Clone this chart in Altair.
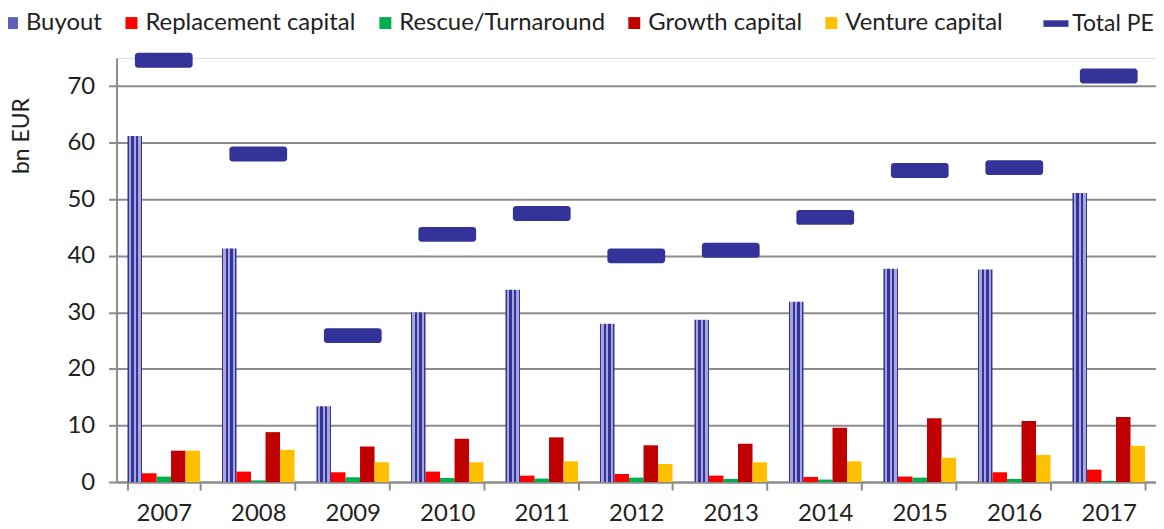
import altair as alt
import pandas as pd

years = ["2007", "2008", "2009", "2010", "2011", "2012", "2013", "2014", "2015", "2016", "2017"]
buyout = [61.2, 41.3, 13.4, 30.0, 34.0, 28.0, 28.7, 31.9, 37.7, 37.6, 51.1]
replacement = [1.55, 1.85, 1.73, 1.85, 1.14, 1.44, 1.14, 0.91, 0.97, 1.73, 2.2]
rescue = [0.97, 0.3, 0.85, 0.73, 0.62, 0.79, 0.56, 0.44, 0.79, 0.56, 0.2]
growth = [5.55, 8.83, 6.3, 7.66, 7.9, 6.5, 6.78, 9.6, 11.3, 10.8, 11.5]
venture = [5.55, 5.7, 3.5, 3.5, 3.67, 3.2, 3.5, 3.67, 4.3, 4.8, 6.4]
total_pe = [74.6, 58.0, 25.9, 43.8, 47.5, 40.0, 41.0, 46.8, 55.1, 55.6, 71.8]

series_names = ["Buyout", "Replacement capital", "Rescue/Turnaround", "Growth capital", "Venture capital"]
colors = ["#5f5fb5", "#ff0000", "#00b050", "#c00000", "#ffc000"]

rows = []
for name, vals in zip(series_names, [buyout, replacement, rescue, growth, venture]):
    for yr, v in zip(years, vals):
        rows.append({"year": yr, "series": name, "value": v})
bars_df = pd.DataFrame(rows)
total_df = pd.DataFrame({"year": years, "series": "Total PE", "value": total_pe})

FONT = "Lato"
GRAY = "#8c8c8c"
TXT = "#222222"

stripes = {
    "gradient": "linear", "x1": 0, "y1": 0, "x2": 1, "y2": 0,
    "stops": [
        {"offset": 0.0, "color": "#333399"}, {"offset": 0.1, "color": "#333399"},
        {"offset": 0.1, "color": "#a6a6da"}, {"offset": 0.27, "color": "#a6a6da"},
        {"offset": 0.27, "color": "#333399"}, {"offset": 0.42, "color": "#333399"},
        {"offset": 0.42, "color": "#a6a6da"}, {"offset": 0.58, "color": "#a6a6da"},
        {"offset": 0.58, "color": "#333399"}, {"offset": 0.73, "color": "#333399"},
        {"offset": 0.73, "color": "#a6a6da"}, {"offset": 0.9, "color": "#a6a6da"},
        {"offset": 0.9, "color": "#333399"}, {"offset": 1.0, "color": "#333399"},
    ],
}

x_enc = alt.X(
    "year:N",
    sort=years,
    scale=alt.Scale(paddingInner=0.232, paddingOuter=0.116),
    axis=alt.Axis(
        title=None, labelAngle=0, labelFontSize=24, labelFont=FONT, labelColor=TXT,
        tickBand="extent", tickSize=8, tickColor=GRAY, tickWidth=2,
        domainColor=GRAY, domainWidth=2, labelPadding=12, grid=False,
    ),
)
xoff_enc = alt.XOffset("series:N", sort=series_names,
                       scale=alt.Scale(domain=series_names, paddingInner=0, paddingOuter=0))
y_enc = alt.Y(
    "value:Q",
    scale=alt.Scale(domain=[0, 75], nice=False),
    axis=alt.Axis(
        title="bn EUR", titleFont=FONT, titleFontSize=23, titleFontWeight="normal",
        titleColor=TXT, titleAngle=270, titleX=-95, titleY=78, titleAlign="center",
        titleBaseline="middle",
        values=[0, 10, 20, 30, 40, 50, 60, 70], labelFontSize=24, labelFont=FONT,
        labelColor=TXT, labelPadding=14, tickSize=8, tickColor=GRAY, tickWidth=2,
        domainColor=GRAY, domainWidth=2, gridColor=GRAY, gridWidth=2,
    ),
)

legend_bars = alt.Legend(
    title=None, orient="none", legendX=-117, legendY=-47, direction="horizontal",
    columns=5, columnPadding=17, labelFontSize=24, labelFont=FONT, labelColor=TXT,
    symbolType="square", symbolSize=144, symbolStrokeWidth=0, labelOffset=2,
    labelLimit=400, padding=0,
)
legend_total = alt.Legend(
    title=None, orient="none", legendX=932, legendY=-46, direction="horizontal",
    labelFontSize=23, labelFont=FONT, labelColor=TXT,
    symbolType="M-2.1,-0.55H2.1V0.55H-2.1Z", symbolSize=144, symbolStrokeWidth=0,
    symbolFillColor="#333399", labelOffset=5, labelLimit=400, padding=0,
)

others = alt.Chart(bars_df).transform_filter(alt.datum.series != "Buyout").mark_bar().encode(
    x=x_enc, xOffset=xoff_enc, y=y_enc,
    color=alt.Color("series:N", scale=alt.Scale(domain=series_names, range=colors), legend=legend_bars),
)
buy = alt.Chart(bars_df).transform_filter(alt.datum.series == "Buyout").mark_bar(fill=stripes).encode(
    x=x_enc, xOffset=xoff_enc, y=y_enc,
)
tot = alt.Chart(total_df).mark_tick(thickness=15, size=58, cornerRadius=3, opacity=1).encode(
    x=x_enc, y=y_enc,
    color=alt.Color("series:N", scale=alt.Scale(domain=["Total PE"], range=["#333399"]), legend=legend_total),
)

chart = alt.layer(buy, others, tot).resolve_scale(color="independent").properties(
    width=1044, height=426,
    autosize=alt.AutoSizeParams(type="none"),
    padding={"left": 109, "top": 49, "right": 0, "bottom": 45},
).configure_view(stroke=None).configure(font=FONT)

chart.save("out.html", embed_options={"renderer": "svg", "actions": False})
